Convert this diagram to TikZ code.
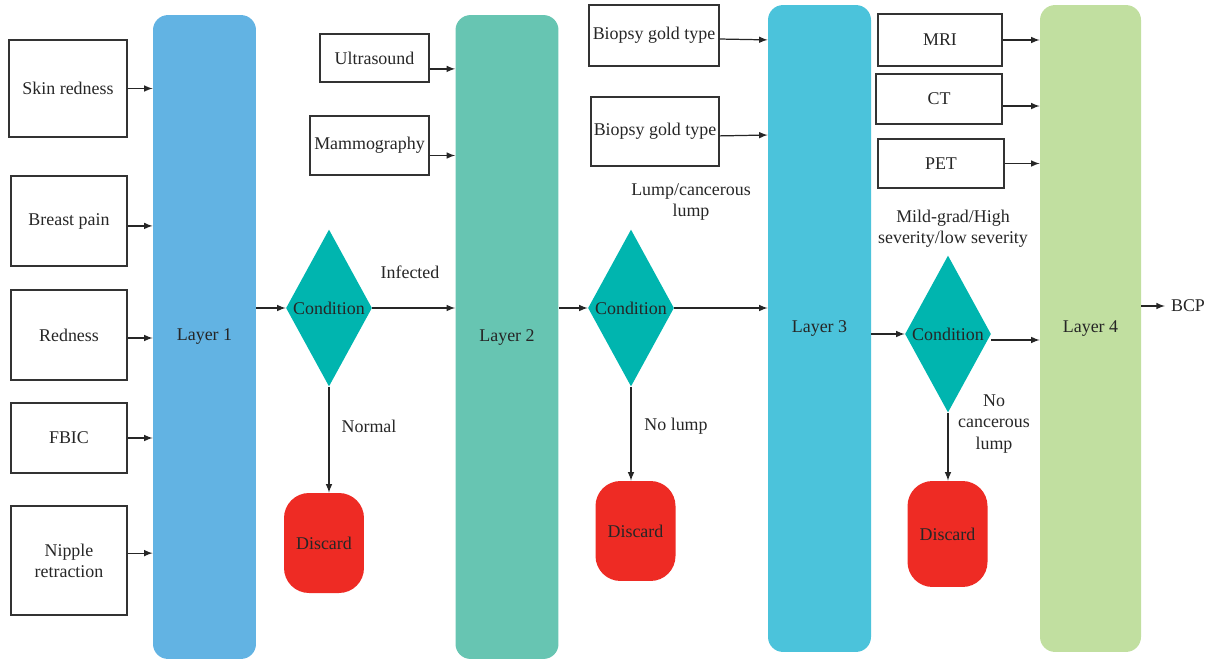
\documentclass[tikz,border=0pt]{standalone}
\usepackage{fontspec}
\setmainfont{Liberation Serif}
\usetikzlibrary{shapes.geometric}
\definecolor{layerA}{HTML}{62B3E3}
\definecolor{layerB}{HTML}{67C5B2}
\definecolor{layerC}{HTML}{4BC3DB}
\definecolor{layerD}{HTML}{C1DFA0}
\definecolor{condcol}{HTML}{00B5AF}
\definecolor{discol}{HTML}{EE2B24}

\begin{document}
\begin{tikzpicture}[x=0.02cm,y=-0.02cm,>=latex,font=\fontsize{10.2}{12}\selectfont,
  box/.style={draw=black!80, line width=0.7pt, inner sep=1pt, align=center, text=black!85},
  layer/.style={rounded corners=0.3cm, minimum width=2.06cm, text=black!85},
  cond/.style={diamond, fill=condcol, minimum width=1.72cm, minimum height=3.14cm, inner sep=0pt},
  discard/.style={fill=discol, rounded corners=0.5cm, minimum width=1.6cm, text=black!85},
  lbl/.style={align=center, text=black!85},
  arr/.style={->, draw=black!85, line width=0.7pt}]
\useasboundingbox (0,0) rectangle (1216,659);

\node[layer, fill=layerA, minimum height=12.88cm] (l1) at (204.5,337) {Layer 1};
\node[layer, fill=layerB, minimum height=12.88cm] (l2) at (507,337) {Layer 2};
\node[layer, fill=layerC, minimum height=12.94cm] (l3) at (819.5,328.5) {Layer 3};
\node[layer, fill=layerD, minimum height=12.94cm, minimum width=2.02cm] (l4) at (1090.5,328.5) {Layer 4};

\node[box, minimum width=2.36cm, minimum height=1.94cm] (skin) at (68,88.5) {Skin redness};
\node[box, minimum width=2.32cm, minimum height=1.8cm] (pain) at (69,221) {Breast pain};
\node[box, minimum width=2.32cm, minimum height=1.8cm] (red) at (69,335) {Redness};
\node[box, minimum width=2.32cm, minimum height=1.4cm] (fbic) at (69,438) {FBIC};
\node[box, minimum width=2.32cm, minimum height=2.18cm] (nip) at (69,560.5) {Nipple\\retraction};

\node[box, minimum width=2.18cm, minimum height=0.96cm] (us) at (374.5,58) {Ultrasound};
\node[box, minimum width=2.38cm, minimum height=1.18cm] (mam) at (369.5,145.5) {Mammography};

\node[box, minimum width=2.6cm, minimum height=1.22cm] (bg1) at (654,35.5) {Biopsy gold type};
\node[box, minimum width=2.56cm, minimum height=1.38cm] (bg2) at (655,131.5) {Biopsy gold type};

\node[box, minimum width=2.48cm, minimum height=1.04cm] (mri) at (940,40) {MRI};
\node[box, minimum width=2.52cm, minimum height=1cm] (ct) at (939,99) {CT};
\node[box, minimum width=2.52cm, minimum height=0.98cm] (pet) at (941,163.5) {PET};

\node[cond] (d1) at (329,308) {};
\node[lbl] (d1t) at (d1) {Condition};
\node[cond] (d2) at (631,308) {};
\node[lbl] (d2t) at (d2) {Condition};
\node[cond] (d3) at (948,334) {};
\node[lbl] (d3t) at (d3) {Condition};

\node[discard, minimum height=2cm] (x1) at (324,543) {Discard};
\node[discard, minimum height=2cm] (x2) at (635.5,531) {Discard};
\node[discard, minimum height=2.12cm] (x3) at (947.5,534) {Discard};

\node[lbl] (inf) at (410,272) {Infected};
\node[lbl] (nor) at (369,426) {Normal};
\node[lbl] (lump) at (691,202) {Lump/cancerous\\lump};
\node[lbl] (nol) at (676,426) {No lump};
\node[lbl] (sev) at (953,229) {Mild-grad/High\\severity/low severity};
\node[lbl] (nocl) at (994,424) {No\\cancerous\\lump};
\node[lbl] (bcp) at (1188,306) {BCP};

\draw[arr] (skin.east) -- (skin.east -| l1.west);
\draw[arr] ([yshift=-2.8pt]pain.east) -- ([yshift=-2.8pt]pain.east -| l1.west);
\draw[arr] ([yshift=-1.7pt]red.east) -- ([yshift=-1.7pt]red.east -| l1.west);
\draw[arr] (fbic.east) -- (fbic.east -| l1.west);
\draw[arr] ([yshift=4.2pt]nip.east) -- ([yshift=4.2pt]nip.east -| l1.west);

\draw[arr] (d1.west -| l1.east) -- (d1.west);
\draw[arr] (d1.east) -- (d1.east -| l2.west);
\draw[arr] (d1.south) -- (d1.south |- x1.north);

\draw[arr] ([yshift=-6.2pt]us.east) -- ([yshift=-6.2pt]us.east -| l2.west);
\draw[arr] ([yshift=-5.7pt]mam.east) -- ([yshift=-5.7pt]mam.east -| l2.west);

\draw[arr] (d2.west -| l2.east) -- (d2.west);
\draw[arr] (d2.east) -- (d2.east -| l3.west);
\draw[arr] (d2.south) -- (d2.south |- x2.north);

\draw[arr] ([yshift=-2pt]bg1.east) -- ([yshift=-2.5pt]bg1.east -| l3.west);
\draw[arr] ([yshift=-2.5pt]bg2.east) -- ([yshift=-2pt]bg2.east -| l3.west);

\draw[arr] (d3.west -| l3.east) -- (d3.west);
\draw[arr] ([yshift=-3.4pt]d3.east) -- ([yshift=-3.4pt]d3.east -| l4.west);
\draw[arr] (d3.south) -- (d3.south |- x3.north);

\draw[arr] (mri.east) -- (mri.east -| l4.west);
\draw[arr] ([yshift=-4pt]ct.east) -- ([yshift=-4pt]ct.east -| l4.west);
\draw[arr] (pet.east) -- (pet.east -| l4.west);

\draw[arr] (bcp.west -| l4.east) -- (bcp.west);
\end{tikzpicture}
\end{document}
